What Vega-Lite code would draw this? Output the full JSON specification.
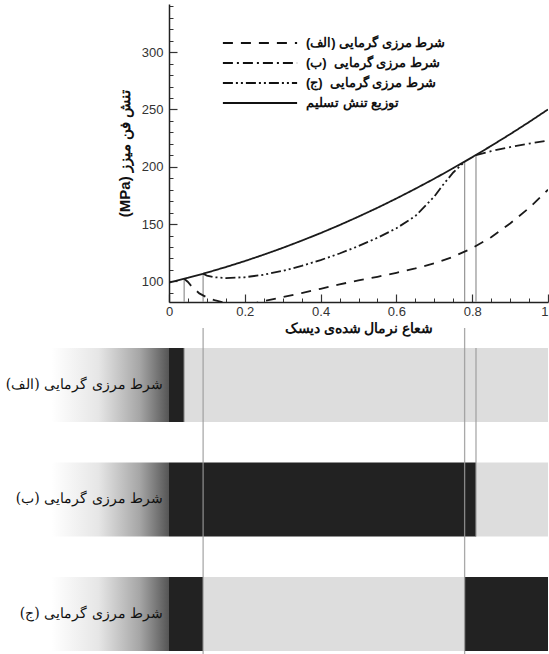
{
  "$schema": "https://vega.github.io/schema/vega-lite/v6.json",
  "padding": {"left": 5, "top": 4, "right": 0, "bottom": 0},
  "bounds": "flush",
  "spacing": 26,
  "config": {
    "view": {"stroke": null},
    "font": "Liberation Sans",
    "axis": {
      "grid": false,
      "labelFont": "Liberation Sans",
      "labelFontSize": 13,
      "labelColor": "#333333",
      "titleFont": "Liberation Sans",
      "titleFontWeight": "bold",
      "titleColor": "#111111",
      "domainColor": "#222222",
      "tickColor": "#333333"
    }
  },
  "datasets": {
    "curves": [
      {"series": "\u202bشرط مرزی گرمایی (الف)\u202c", "r": 0.04, "s": 102.3},
      {"series": "\u202bشرط مرزی گرمایی (الف)\u202c", "r": 0.05, "s": 99.5},
      {"series": "\u202bشرط مرزی گرمایی (الف)\u202c", "r": 0.06, "s": 95.5},
      {"series": "\u202bشرط مرزی گرمایی (الف)\u202c", "r": 0.08, "s": 89.5},
      {"series": "\u202bشرط مرزی گرمایی (الف)\u202c", "r": 0.1, "s": 86.0},
      {"series": "\u202bشرط مرزی گرمایی (الف)\u202c", "r": 0.12, "s": 83.6},
      {"series": "\u202bشرط مرزی گرمایی (الف)\u202c", "r": 0.14, "s": 82.0},
      {"series": "\u202bشرط مرزی گرمایی (الف)\u202c", "r": 0.17, "s": 80.6},
      {"series": "\u202bشرط مرزی گرمایی (الف)\u202c", "r": 0.2, "s": 80.2},
      {"series": "\u202bشرط مرزی گرمایی (الف)\u202c", "r": 0.23, "s": 81.2},
      {"series": "\u202bشرط مرزی گرمایی (الف)\u202c", "r": 0.25, "s": 82.8},
      {"series": "\u202bشرط مرزی گرمایی (الف)\u202c", "r": 0.3, "s": 86.3},
      {"series": "\u202bشرط مرزی گرمایی (الف)\u202c", "r": 0.35, "s": 89.8},
      {"series": "\u202bشرط مرزی گرمایی (الف)\u202c", "r": 0.4, "s": 93.5},
      {"series": "\u202bشرط مرزی گرمایی (الف)\u202c", "r": 0.45, "s": 97.4},
      {"series": "\u202bشرط مرزی گرمایی (الف)\u202c", "r": 0.5, "s": 100.8},
      {"series": "\u202bشرط مرزی گرمایی (الف)\u202c", "r": 0.55, "s": 104.0},
      {"series": "\u202bشرط مرزی گرمایی (الف)\u202c", "r": 0.6, "s": 107.5},
      {"series": "\u202bشرط مرزی گرمایی (الف)\u202c", "r": 0.65, "s": 111.3},
      {"series": "\u202bشرط مرزی گرمایی (الف)\u202c", "r": 0.7, "s": 115.7},
      {"series": "\u202bشرط مرزی گرمایی (الف)\u202c", "r": 0.75, "s": 121.5},
      {"series": "\u202bشرط مرزی گرمایی (الف)\u202c", "r": 0.8, "s": 129.0},
      {"series": "\u202bشرط مرزی گرمایی (الف)\u202c", "r": 0.85, "s": 138.5},
      {"series": "\u202bشرط مرزی گرمایی (الف)\u202c", "r": 0.9, "s": 150.5},
      {"series": "\u202bشرط مرزی گرمایی (الف)\u202c", "r": 0.95, "s": 164.0},
      {"series": "\u202bشرط مرزی گرمایی (الف)\u202c", "r": 1.0, "s": 180.0},
      {"series": "\u202bشرط مرزی گرمایی\u00a0 (ب)\u202c", "r": 0.81, "s": 210.2},
      {"series": "\u202bشرط مرزی گرمایی\u00a0 (ب)\u202c", "r": 0.85, "s": 213.6},
      {"series": "\u202bشرط مرزی گرمایی\u00a0 (ب)\u202c", "r": 0.9, "s": 217.2},
      {"series": "\u202bشرط مرزی گرمایی\u00a0 (ب)\u202c", "r": 0.95, "s": 220.2},
      {"series": "\u202bشرط مرزی گرمایی\u00a0 (ب)\u202c", "r": 1.0, "s": 222.8},
      {"series": "\u202bشرط مرزی گرمایی\u00a0 (ج)\u202c", "r": 0.09, "s": 106.7},
      {"series": "\u202bشرط مرزی گرمایی\u00a0 (ج)\u202c", "r": 0.1, "s": 105.0},
      {"series": "\u202bشرط مرزی گرمایی\u00a0 (ج)\u202c", "r": 0.12, "s": 103.6},
      {"series": "\u202bشرط مرزی گرمایی\u00a0 (ج)\u202c", "r": 0.15, "s": 102.9},
      {"series": "\u202bشرط مرزی گرمایی\u00a0 (ج)\u202c", "r": 0.2, "s": 103.6},
      {"series": "\u202bشرط مرزی گرمایی\u00a0 (ج)\u202c", "r": 0.25, "s": 105.8},
      {"series": "\u202bشرط مرزی گرمایی\u00a0 (ج)\u202c", "r": 0.3, "s": 109.2},
      {"series": "\u202bشرط مرزی گرمایی\u00a0 (ج)\u202c", "r": 0.35, "s": 113.5},
      {"series": "\u202bشرط مرزی گرمایی\u00a0 (ج)\u202c", "r": 0.4, "s": 118.6},
      {"series": "\u202bشرط مرزی گرمایی\u00a0 (ج)\u202c", "r": 0.45, "s": 124.3},
      {"series": "\u202bشرط مرزی گرمایی\u00a0 (ج)\u202c", "r": 0.5, "s": 130.8},
      {"series": "\u202bشرط مرزی گرمایی\u00a0 (ج)\u202c", "r": 0.55, "s": 138.0},
      {"series": "\u202bشرط مرزی گرمایی\u00a0 (ج)\u202c", "r": 0.6, "s": 146.3},
      {"series": "\u202bشرط مرزی گرمایی\u00a0 (ج)\u202c", "r": 0.65, "s": 157.0},
      {"series": "\u202bشرط مرزی گرمایی\u00a0 (ج)\u202c", "r": 0.7, "s": 174.0},
      {"series": "\u202bشرط مرزی گرمایی\u00a0 (ج)\u202c", "r": 0.72, "s": 183.0},
      {"series": "\u202bشرط مرزی گرمایی\u00a0 (ج)\u202c", "r": 0.75, "s": 195.0},
      {"series": "\u202bشرط مرزی گرمایی\u00a0 (ج)\u202c", "r": 0.78, "s": 204.4},
      {"series": "توزیع تنش تسلیم", "r": 0.0, "s": 99.0},
      {"series": "توزیع تنش تسلیم", "r": 0.05, "s": 103.1},
      {"series": "توزیع تنش تسلیم", "r": 0.1, "s": 107.6},
      {"series": "توزیع تنش تسلیم", "r": 0.15, "s": 112.5},
      {"series": "توزیع تنش تسلیم", "r": 0.2, "s": 117.7},
      {"series": "توزیع تنش تسلیم", "r": 0.25, "s": 123.3},
      {"series": "توزیع تنش تسلیم", "r": 0.3, "s": 129.2},
      {"series": "توزیع تنش تسلیم", "r": 0.35, "s": 135.5},
      {"series": "توزیع تنش تسلیم", "r": 0.4, "s": 142.1},
      {"series": "توزیع تنش تسلیم", "r": 0.45, "s": 149.1},
      {"series": "توزیع تنش تسلیم", "r": 0.5, "s": 156.5},
      {"series": "توزیع تنش تسلیم", "r": 0.55, "s": 164.2},
      {"series": "توزیع تنش تسلیم", "r": 0.6, "s": 172.3},
      {"series": "توزیع تنش تسلیم", "r": 0.65, "s": 180.8},
      {"series": "توزیع تنش تسلیم", "r": 0.7, "s": 189.6},
      {"series": "توزیع تنش تسلیم", "r": 0.75, "s": 198.8},
      {"series": "توزیع تنش تسلیم", "r": 0.8, "s": 208.3},
      {"series": "توزیع تنش تسلیم", "r": 0.85, "s": 218.2},
      {"series": "توزیع تنش تسلیم", "r": 0.9, "s": 228.4},
      {"series": "توزیع تنش تسلیم", "r": 0.95, "s": 239.0},
      {"series": "توزیع تنش تسلیم", "r": 1.0, "s": 250.0}
    ],
    "cuts": [
      {"r": 0.04, "s": 102.3, "cond": "الف"},
      {"r": 0.09, "s": 106.7, "cond": "ج"},
      {"r": 0.78, "s": 204.4, "cond": "ج"},
      {"r": 0.81, "s": 210.2, "cond": "ب"}
    ],
    "rows": [
      {"cond": "الف", "label": "\u202bشرط مرزی گرمایی (الف)\u202c"},
      {"cond": "ب", "label": "\u202bشرط مرزی گرمایی (ب)\u202c"},
      {"cond": "ج", "label": "\u202bشرط مرزی گرمایی (ج)\u202c"}
    ],
    "zones": [
      {"cond": "الف", "start": 0, "end": 0.04, "state": "plastic"},
      {"cond": "الف", "start": 0.04, "end": 1, "state": "elastic"},
      {"cond": "ب", "start": 0, "end": 0.81, "state": "plastic"},
      {"cond": "ب", "start": 0.81, "end": 1, "state": "elastic"},
      {"cond": "ج", "start": 0, "end": 0.09, "state": "plastic"},
      {"cond": "ج", "start": 0.09, "end": 0.78, "state": "elastic"},
      {"cond": "ج", "start": 0.78, "end": 1, "state": "plastic"}
    ]
  },
  "vconcat": [
    {
      "width": 379,
      "height": 298,
      "layer": [
        {
          "data": {"name": "cuts"},
          "mark": {"type": "rule", "color": "#9a9a9a", "strokeWidth": 1.3},
          "encoding": {
            "x": {
              "field": "r", "type": "quantitative",
              "scale": {"domain": [0, 1], "nice": false},
              "axis": {
                "orient": "bottom", "title": null, "labels": false, "domain": false,
                "tickSize": -4, "tickWidth": 1,
                "values": [0.05, 0.1, 0.15, 0.25, 0.3, 0.35, 0.45, 0.5, 0.55, 0.65, 0.7, 0.75, 0.85, 0.9, 0.95]
              }
            },
            "y": {
              "field": "s", "type": "quantitative",
              "scale": {"domain": [82, 342], "nice": false, "zero": false},
              "axis": {
                "orient": "left", "title": null, "labels": false, "domain": false,
                "tickSize": -4, "tickWidth": 1,
                "values": [90, 110, 120, 130, 140, 160, 170, 180, 190, 210, 220, 230, 240, 260, 270, 280, 290, 310, 320, 330, 340]
              }
            },
            "y2": {"datum": 82}
          }
        },
        {
          "data": {"name": "curves"},
          "mark": {"type": "line", "clip": true, "color": "#1a1a1a", "strokeWidth": 1.8},
          "encoding": {
            "x": {
              "field": "r", "type": "quantitative",
              "axis": {
                "orient": "bottom",
                "title": "شعاع نرمال شده\u200cی دیسک",
                "titleFontSize": 14, "titlePadding": 3,
                "values": [0, 0.2, 0.4, 0.6, 0.8, 1],
                "format": "~g",
                "tickSize": -8, "tickWidth": 1.2, "domainWidth": 1.5,
                "labelPadding": 11,
                "labelAlign": {"condition": {"test": "datum.value === 1", "value": "right"}, "value": "center"}
              }
            },
            "y": {
              "field": "s", "type": "quantitative",
              "axis": {
                "orient": "left",
                "title": "\u202bتنش فن میزز (MPa)\u202c",
                "titleFontSize": 15, "titlePadding": 9,
                "values": [100, 150, 200, 250, 300],
                "tickSize": -8, "tickWidth": 1.2, "domainWidth": 1.5,
                "labelPadding": 14
              }
            },
            "strokeDash": {
              "field": "series", "type": "nominal",
              "scale": {
                "domain": [
                  "\u202bشرط مرزی گرمایی (الف)\u202c",
                  "\u202bشرط مرزی گرمایی\u00a0 (ب)\u202c",
                  "\u202bشرط مرزی گرمایی\u00a0 (ج)\u202c",
                  "توزیع تنش تسلیم"
                ],
                "range": [[10, 8], [10, 4, 2, 4], [10, 3, 2, 3, 2, 3], [1, 0]]
              },
              "legend": {
                "orient": "none", "legendX": 83, "legendY": 31, "padding": 0,
                "title": null,
                "symbolType": "M-5.3,0H5.3", "symbolSize": 196,
                "symbolStrokeWidth": 1.8, "symbolStrokeColor": "#111111", "symbolFillColor": "transparent",
                "labelFont": "Liberation Sans", "labelFontSize": 13, "labelFontWeight": "bold",
                "labelColor": "#111111", "labelOffset": 38, "rowPadding": 5
              }
            }
          }
        }
      ],
      "resolve": {"axis": {"x": "independent", "y": "independent"}}
    },
    {
      "width": 379,
      "height": 326,
      "layer": [
        {
          "data": {"name": "rows"},
          "mark": {
            "type": "bar",
            "color": {
              "gradient": "linear", "x1": 0, "y1": 0, "x2": 1, "y2": 0,
              "stops": [
                {"offset": 0, "color": "#ffffff"},
                {"offset": 0.4, "color": "#e6e6e6"},
                {"offset": 0.75, "color": "#a6a6a6"},
                {"offset": 1, "color": "#555555"}
              ]
            }
          },
          "encoding": {
            "y": {
              "field": "cond", "type": "nominal",
              "scale": {"domain": ["الف", "ب", "ج"], "paddingInner": 0.354, "paddingOuter": 0.1, "align": 0.87},
              "axis": null
            },
            "x": {"datum": -0.31, "type": "quantitative", "scale": {"domain": [0, 1], "nice": false}, "axis": null},
            "x2": {"datum": 0}
          }
        },
        {
          "data": {"name": "zones"},
          "mark": {"type": "bar"},
          "encoding": {
            "y": {"field": "cond", "type": "nominal"},
            "x": {"field": "start", "type": "quantitative"},
            "x2": {"field": "end"},
            "color": {
              "field": "state", "type": "nominal",
              "scale": {"domain": ["plastic", "elastic"], "range": ["#222222", "#dddddd"]},
              "legend": null
            }
          }
        },
        {
          "data": {"name": "cuts"},
          "transform": [{"filter": "datum.cond === 'ج'"}],
          "mark": {"type": "rule", "color": "#9a9a9a", "strokeWidth": 1.3, "opacity": 0.85},
          "encoding": {
            "x": {"field": "r", "type": "quantitative"}
          }
        },
        {
          "data": {"name": "cuts"},
          "transform": [{"filter": "datum.cond !== 'ج'"}],
          "mark": {"type": "rule", "color": "#9a9a9a", "strokeWidth": 1.3, "opacity": 0.85},
          "encoding": {
            "x": {"field": "r", "type": "quantitative"},
            "y": {"field": "cond", "type": "nominal", "bandPosition": 1},
            "y2": {"datum": "الف", "bandPosition": 0}
          }
        },
        {
          "mark": {"type": "rule", "color": "#111111", "strokeWidth": 1.6},
          "encoding": {"x": {"datum": 0}}
        },
        {
          "mark": {"type": "rule", "color": "#777777", "strokeWidth": 1},
          "encoding": {"x": {"datum": 1}}
        },
        {
          "data": {"name": "rows"},
          "mark": {"type": "text", "align": "right", "baseline": "middle", "dx": -6, "font": "DejaVu Serif", "fontSize": 14, "color": "#111111"},
          "encoding": {
            "y": {"field": "cond", "type": "nominal"},
            "x": {"datum": 0},
            "text": {"field": "label"}
          }
        }
      ]
    }
  ]
}
